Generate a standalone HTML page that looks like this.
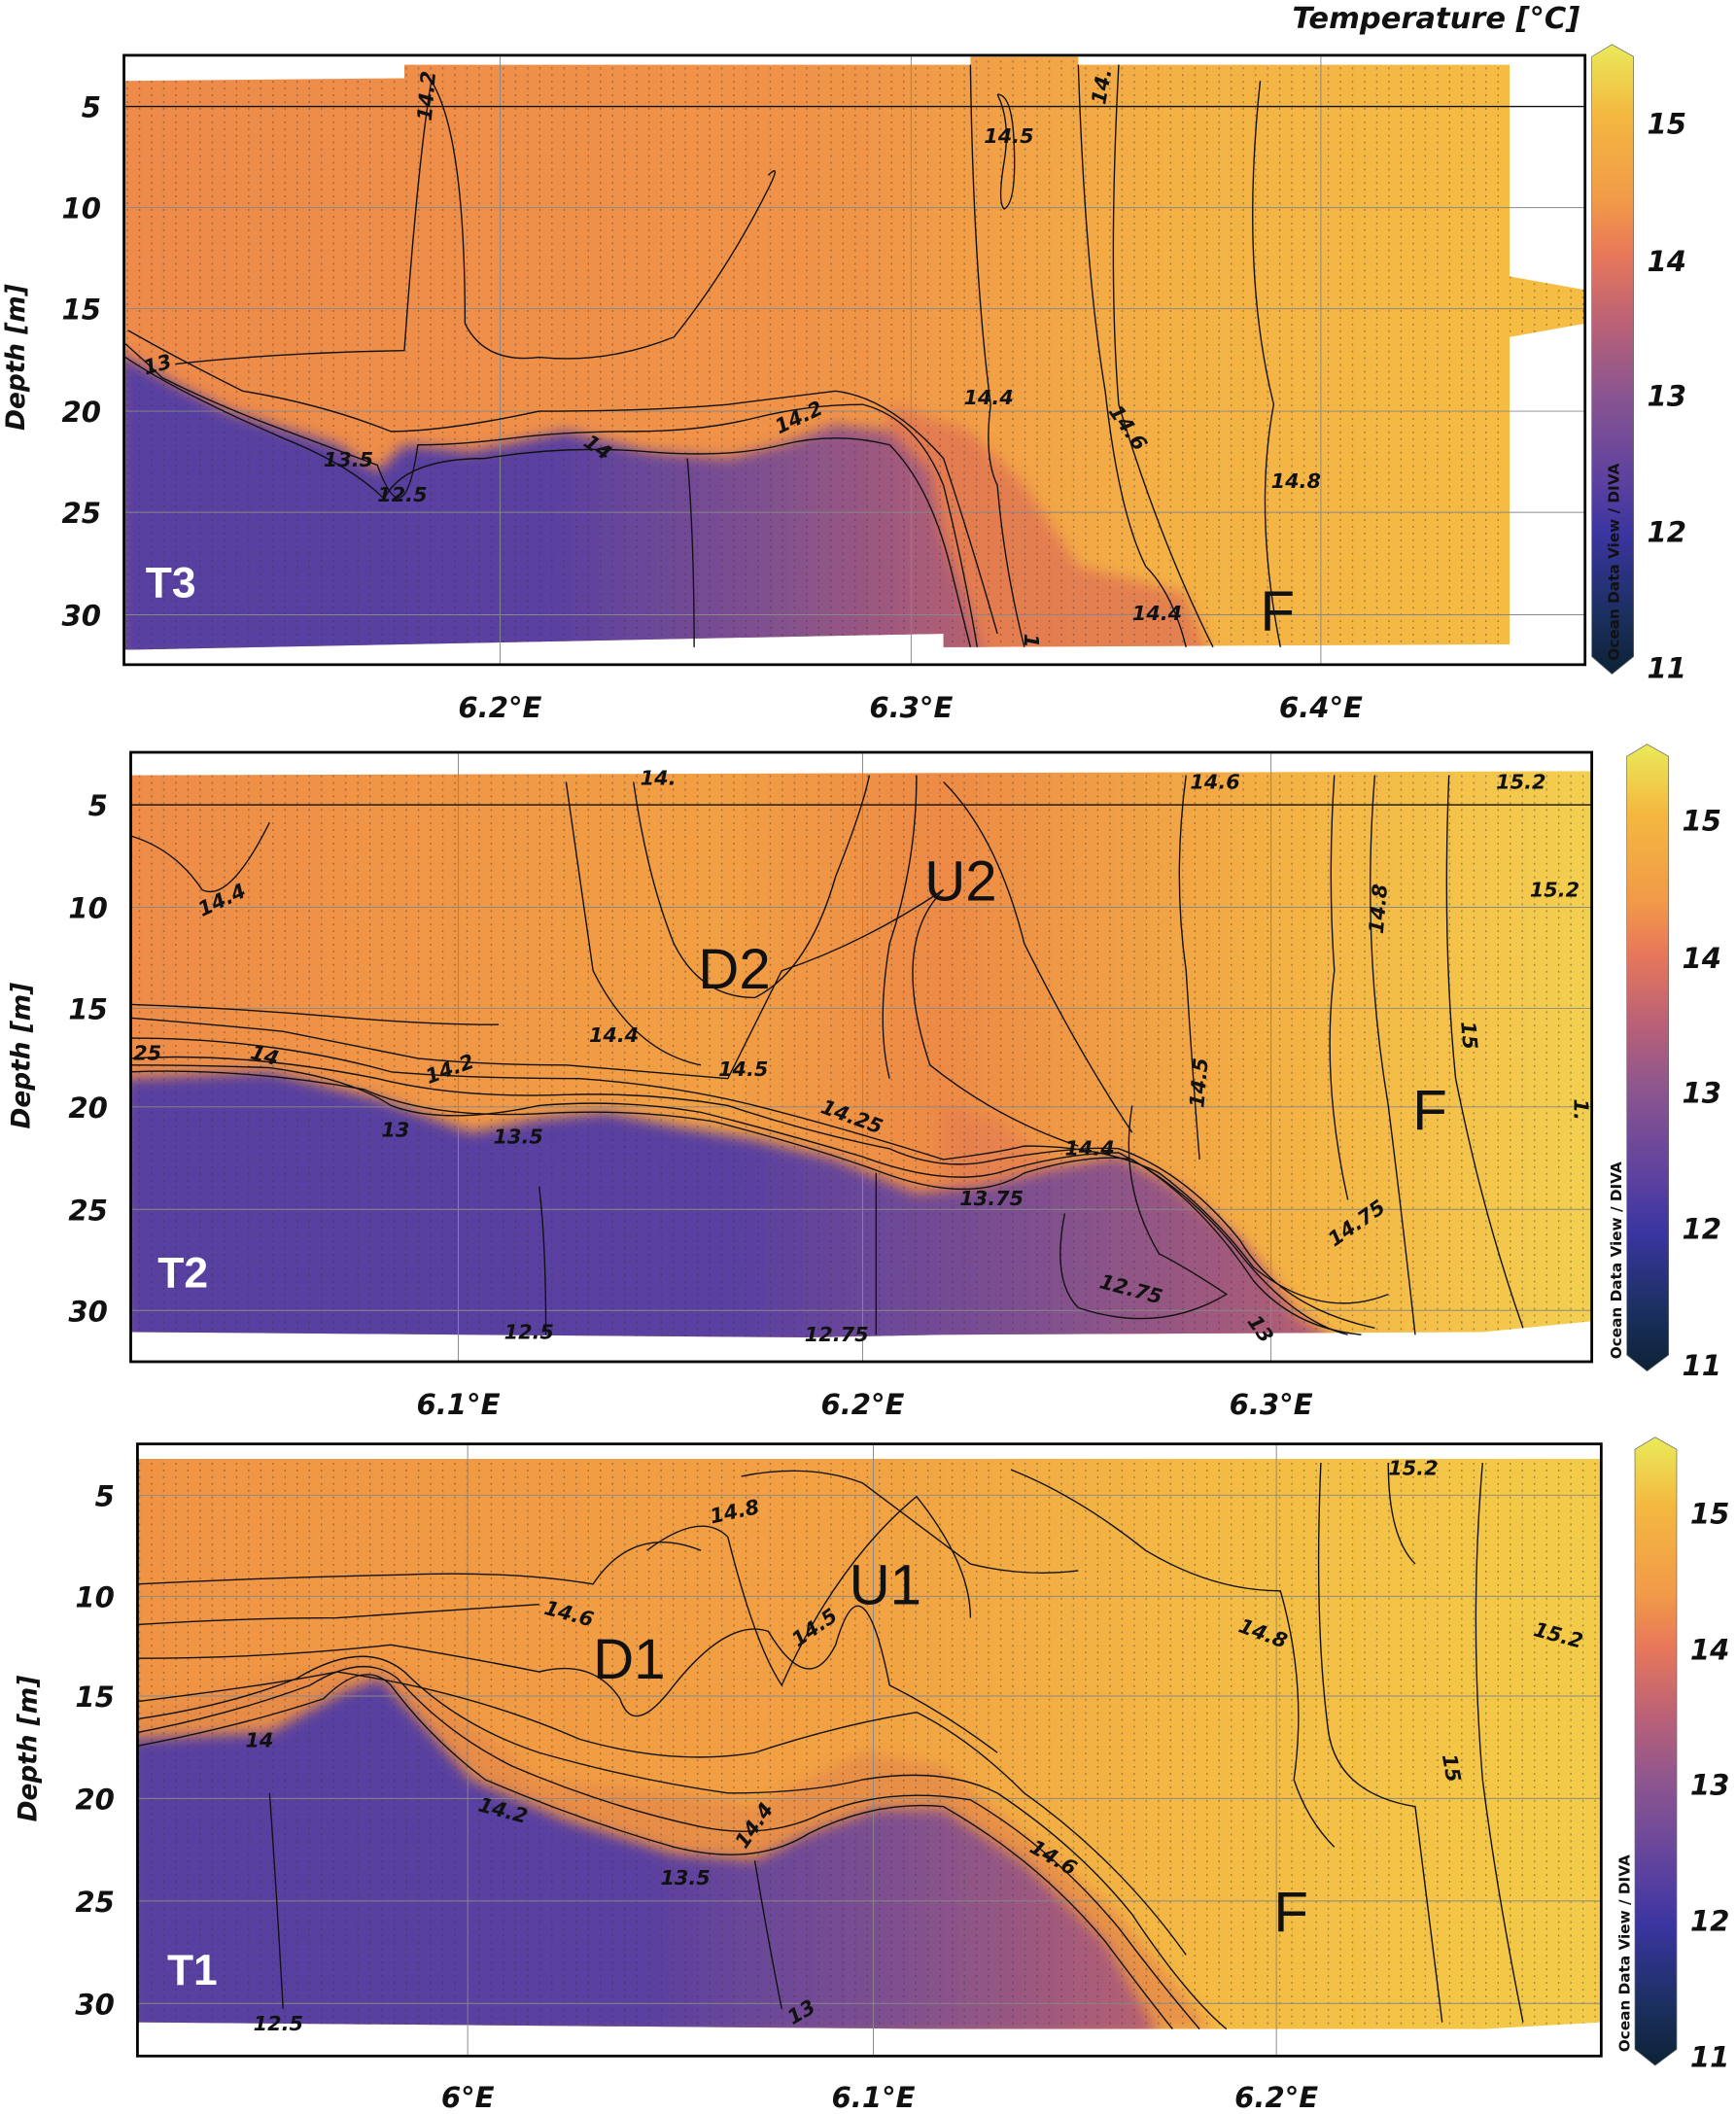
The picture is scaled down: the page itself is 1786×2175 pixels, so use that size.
<!DOCTYPE html>
<html><head><meta charset="utf-8"><style>
html,body{margin:0;padding:0;background:#fff;}
svg{display:block}
text{font-family:"DejaVu Sans","Liberation Sans",sans-serif;}
.t{font-size:21px;font-weight:bold;font-style:italic;fill:#111}
.cl{font-size:15px;font-weight:bold;font-style:italic;fill:#111}
.big{font-family:"Liberation Sans",sans-serif;font-size:42px;fill:#111}
.tl{font-family:"Liberation Sans",sans-serif;font-size:32px;fill:#fff;font-weight:bold}
.c{fill:none;stroke:#111;stroke-width:1}
.g{stroke:#888;stroke-width:0.7}
</style></head><body>
<svg width="1786" height="2175" viewBox="0 0 1288 1568" preserveAspectRatio="none" xmlns="http://www.w3.org/2000/svg">
<defs>
<linearGradient id="cb" x1="0" y1="0" x2="0" y2="1">
<stop offset="0" stop-color="#eaea5a"/><stop offset="0.111" stop-color="#f4b840"/>
<stop offset="0.25" stop-color="#f19a48"/><stop offset="0.333" stop-color="#e8785a"/>
<stop offset="0.45" stop-color="#b86078"/><stop offset="0.556" stop-color="#8a5590"/>
<stop offset="0.7" stop-color="#5a40a0"/><stop offset="0.778" stop-color="#3a35a0"/>
<stop offset="0.9" stop-color="#1c3062"/><stop offset="1" stop-color="#0d2235"/>
</linearGradient>
<linearGradient id="bg1" x1="0" y1="0" x2="1" y2="0">
<stop offset="0" stop-color="#ee8a4a"/><stop offset="0.5" stop-color="#f09448"/>
<stop offset="0.72" stop-color="#f4b245"/><stop offset="1" stop-color="#f5be42"/>
</linearGradient>
<linearGradient id="bg2" x1="0" y1="0" x2="1" y2="0">
<stop offset="0" stop-color="#ee8c48"/><stop offset="0.4" stop-color="#f2a044"/>
<stop offset="0.55" stop-color="#ed8a46"/><stop offset="0.8" stop-color="#f4b444"/>
<stop offset="1" stop-color="#f3d050"/>
</linearGradient>
<linearGradient id="bg3" x1="0" y1="0" x2="1" y2="0">
<stop offset="0" stop-color="#f09444"/><stop offset="0.5" stop-color="#f2a243"/>
<stop offset="0.75" stop-color="#f4bc44"/><stop offset="1" stop-color="#f4cc48"/>
</linearGradient>
<linearGradient id="pu" x1="0" y1="0" x2="1" y2="0">
<stop offset="0" stop-color="#5840a0"/><stop offset="0.5" stop-color="#5a40a0"/>
<stop offset="0.75" stop-color="#80508f"/><stop offset="1" stop-color="#b86070"/>
</linearGradient>
<filter id="bl" x="-5%" y="-5%" width="110%" height="110%"><feGaussianBlur stdDeviation="5"/></filter>
<pattern id="dots" width="9" height="5" patternUnits="userSpaceOnUse"><rect x="4" y="0" width="1" height="1.4" fill="#333" opacity="0.45"/></pattern>
<clipPath id="c1"><path d="M93,60 L300,58 L300,48 L720,48 L720,42 L800,42 L800,48 L1120,48 L1120,205 L1176,215 L1176,240 L1120,250 L1120,478 L700,480 L700,470 L93,482Z"/></clipPath>
<clipPath id="c2"><path d="M97,575 L1181,572 L1181,980 L1100,988 L700,990 L600,992 L97,988Z"/></clipPath>
<clipPath id="c3"><path d="M102,1082 L1188,1082 L1188,1500 L1100,1505 L700,1505 L102,1500Z"/></clipPath>
</defs>

<!-- ================= PANEL 1 ================= -->
<g clip-path="url(#c1)">
<rect x="90" y="40" width="1090" height="450" fill="url(#bg1)"/>
<path filter="url(#bl)" fill="#e07552" opacity="0.8" d="M660,300 L720,320 L760,360 L800,420 L880,440 L900,490 L640,490Z"/>
<path filter="url(#bl)" fill="url(#pu)" d="M88,262 L130,285 L170,305 L210,318 L250,330 L280,350 L300,330 L350,335 L420,320 L480,335 L540,340 L580,330 L620,315 L660,320 L690,350 L700,400 L715,440 L730,490 L88,490Z"/>
<rect x="90" y="40" width="1090" height="450" fill="url(#dots)"/>
</g>
<g class="g"><line x1="92" y1="154" x2="1176" y2="154"/><line x1="92" y1="229" x2="1176" y2="229"/><line x1="92" y1="305" x2="1176" y2="305"/><line x1="92" y1="380" x2="1176" y2="380"/><line x1="92" y1="456" x2="1176" y2="456"/><line x1="371" y1="41" x2="371" y2="493"/><line x1="676" y1="41" x2="676" y2="493"/><line x1="980" y1="41" x2="980" y2="493"/></g>
<line x1="92" y1="79" x2="1176" y2="79" stroke="#111" stroke-width="1"/>
<g class="c">
<path d="M93,255 Q110,270 120,280 Q160,300 200,315 Q240,330 280,345 Q300,400 310,330 Q340,330 380,325 Q420,320 470,320 Q520,320 560,310 Q600,300 640,300 Q680,310 700,360 Q715,420 725,480"/>
<path d="M93,265 Q130,290 210,325 Q260,345 285,370 Q300,340 360,340 Q420,330 480,335 Q540,340 580,330 Q620,320 660,330 Q690,360 705,420 Q715,460 720,480"/>
<path d="M95,245 Q130,265 180,290 Q240,300 290,320 Q330,320 400,305 Q480,305 540,300 Q580,295 620,290 Q660,295 700,340 Q720,400 740,470"/>
<path d="M130,270 Q200,262 300,260 Q310,120 320,60 Q345,100 345,240 Q360,270 400,265 Q450,270 500,250 Q540,200 570,140 Q580,120 570,130"/>
<path d="M720,48 Q722,200 735,300 Q730,340 740,360 Q745,420 760,480"/>
<path d="M800,48 Q805,200 820,290 Q830,380 850,420 Q870,440 880,480"/>
<path d="M830,48 Q822,200 830,300 Q860,400 900,480"/>
<path d="M935,60 Q920,200 945,300 Q930,380 950,480"/>
<path d="M740,70 Q750,90 745,120 Q740,150 745,155 Q755,150 752,100 Q750,70 740,70"/>
<path d="M510,340 Q515,400 515,480"/>
</g>
<text class="cl" transform="translate(320,90) rotate(-85)">14.2</text>
<text class="cl" x="730" y="106">14.5</text>
<text class="cl" transform="translate(820,78) rotate(-80)">14.</text>
<text class="cl" x="715" y="300">14.4</text>
<text class="cl" transform="translate(578,322) rotate(-25)">14.2</text>
<text class="cl" transform="translate(822,305) rotate(55)">14.6</text>
<text class="cl" x="943" y="362">14.8</text>
<text class="cl" x="240" y="346">13.5</text>
<text class="cl" x="280" y="372">12.5</text>
<text class="cl" transform="translate(432,330) rotate(35)">14</text>
<text class="cl" transform="translate(108,278) rotate(-15)">13</text>
<text class="cl" x="840" y="460">14.4</text>
<text class="cl" transform="translate(760,470) rotate(90)">1</text>
<text class="big" x="935" y="468">F</text>
<text class="tl" x="108" y="443">T3</text>
<rect x="92" y="41" width="1084" height="452" fill="none" stroke="#000" stroke-width="2"/>
<g class="t" text-anchor="end"><text x="75" y="87">5</text><text x="75" y="162">10</text><text x="75" y="237">15</text><text x="75" y="313">20</text><text x="75" y="388">25</text><text x="75" y="464">30</text></g>
<g class="t" text-anchor="middle"><text x="371" y="532">6.2°E</text><text x="676" y="532">6.3°E</text><text x="980" y="532">6.4°E</text></g>
<text class="t" transform="translate(18,265) rotate(-90)" text-anchor="middle" style="font-size:19px">Depth [m]</text>
<text class="t" x="1172" y="21" text-anchor="end" style="font-size:22px">Temperature [°C]</text>
<path d="M1181,42 L1196,33 L1212,42 L1212,487 L1196,500 L1181,487Z" fill="url(#cb)" stroke="#666" stroke-width="0.5"/>
<g class="t"><text x="1222" y="99">15</text><text x="1222" y="201">14</text><text x="1222" y="301">13</text><text x="1222" y="402">12</text><text x="1222" y="503">11</text></g>
<text transform="translate(1201,490) rotate(-90)" style="font-size:11px;font-weight:bold;fill:#111">Ocean Data View / DIVA</text>

<!-- ================= PANEL 2 ================= -->
<g clip-path="url(#c2)">
<rect x="95" y="555" width="1090" height="460" fill="url(#bg2)"/>
<path filter="url(#bl)" fill="#e27a52" opacity="0.6" d="M700,820 L740,830 L790,870 L830,860 L880,880 L930,930 L990,1000 L700,1000Z"/>
<path filter="url(#bl)" fill="url(#pu)" d="M92,800 L200,795 L280,815 L350,840 L400,830 L450,825 L500,835 L560,845 L620,860 L680,885 L730,880 L790,865 L830,858 L870,880 L920,920 L960,975 L1000,1000 L92,1000Z"/>
<rect x="95" y="555" width="1090" height="460" fill="url(#dots)"/>
</g>
<g class="g"><line x1="97" y1="673" x2="1181" y2="673"/><line x1="97" y1="748" x2="1181" y2="748"/><line x1="97" y1="821" x2="1181" y2="821"/><line x1="97" y1="897" x2="1181" y2="897"/><line x1="97" y1="972" x2="1181" y2="972"/><line x1="340" y1="558" x2="340" y2="1010"/><line x1="640" y1="558" x2="640" y2="1010"/><line x1="943" y1="558" x2="943" y2="1010"/></g>
<line x1="97" y1="597" x2="1181" y2="597" stroke="#111" stroke-width="1"/>
<g class="c">
<path d="M97,790 Q150,790 200,792 Q260,800 290,820 Q330,835 400,820 Q460,815 520,825 Q580,840 640,858 Q700,880 740,870 Q790,855 830,855 Q880,880 920,930 Q960,980 1000,990"/>
<path d="M97,795 Q180,792 270,808 Q320,830 400,826 Q470,822 530,832 Q600,850 650,868 Q720,895 760,870 Q810,855 840,860 Q890,890 930,950 Q960,985 1010,990"/>
<path d="M97,785 Q180,780 280,800 Q340,815 420,812 Q480,810 540,820 Q600,840 660,852 Q700,870 740,860 Q800,850 830,852 Q880,870 920,920 Q950,970 1020,985"/>
<path d="M97,770 Q200,770 290,795 Q350,800 430,800 Q500,805 560,820 Q620,835 700,860 Q740,855 760,850 Q820,850 860,870 Q900,900 930,940 Q980,980 1030,960"/>
<path d="M97,755 Q160,760 210,765 Q260,775 310,785 Q360,790 420,790 Q480,795 540,800 Q560,760 580,720 Q640,700 700,660 Q660,700 690,790 Q740,830 800,850"/>
<path d="M97,745 Q180,748 260,755 Q320,760 370,760"/>
<path d="M420,580 Q430,650 440,720 Q470,780 520,790"/>
<path d="M470,580 Q480,650 500,700 Q520,740 560,740 Q600,720 620,650 Q640,600 645,575"/>
<path d="M680,575 Q680,640 660,700 Q650,760 660,800"/>
<path d="M700,580 Q740,620 760,700 Q800,780 840,840"/>
<path d="M880,575 Q870,650 880,720 Q885,800 890,860"/>
<path d="M990,575 Q985,650 990,720 Q980,800 1000,890"/>
<path d="M1020,575 Q1010,700 1030,820 Q1040,900 1050,990"/>
<path d="M1075,575 Q1070,700 1080,800 Q1100,900 1130,985"/>
<path d="M97,620 Q130,630 150,660 Q170,670 200,610"/>
<path d="M840,820 Q830,880 860,930 Q880,940 910,960 Q860,990 800,970 Q780,950 790,900"/>
<path d="M400,880 Q405,920 405,990"/><path d="M650,870 Q650,930 650,990"/>
</g>
<text class="cl" transform="translate(150,680) rotate(-25)">14.4</text>
<text class="cl" x="475" y="582">14.</text>
<text class="cl" x="883" y="585">14.6</text>
<text class="cl" x="1110" y="585">15.2</text>
<text class="cl" x="1135" y="665">15.2</text>
<text class="cl" transform="translate(1026,693) rotate(-85)">14.8</text>
<text class="cl" transform="translate(1084,758) rotate(85)">15</text>
<text class="cl" transform="translate(893,822) rotate(-85)">14.5</text>
<text class="cl" x="437" y="773">14.4</text>
<text class="cl" x="533" y="798">14.5</text>
<text class="cl" transform="translate(318,804) rotate(-20)">14.2</text>
<text class="cl" transform="translate(185,785) rotate(15)">14</text>
<text class="cl" x="99" y="786">25</text>
<text class="cl" x="283" y="843">13</text>
<text class="cl" x="366" y="848">13.5</text>
<text class="cl" transform="translate(608,825) rotate(20)">14.25</text>
<text class="cl" x="790" y="857">14.4</text>
<text class="cl" x="712" y="894">13.75</text>
<text class="cl" transform="translate(990,925) rotate(-35)">14.75</text>
<text class="cl" transform="translate(815,955) rotate(15)">12.75</text>
<text class="cl" transform="translate(925,980) rotate(55)">13</text>
<text class="cl" x="374" y="993">12.5</text>
<text class="cl" x="597" y="995">12.75</text>
<text class="cl" transform="translate(1168,815) rotate(90)">1.</text>
<text class="big" x="518" y="733">D2</text>
<text class="big" x="686" y="668">U2</text>
<text class="big" x="1048" y="838">F</text>
<text class="tl" x="117" y="955">T2</text>
<rect x="97" y="558" width="1084" height="452" fill="none" stroke="#000" stroke-width="2"/>
<g class="t" text-anchor="end"><text x="80" y="605">5</text><text x="80" y="681">10</text><text x="80" y="756">15</text><text x="80" y="829">20</text><text x="80" y="905">25</text><text x="80" y="980">30</text></g>
<g class="t" text-anchor="middle"><text x="340" y="1049">6.1°E</text><text x="640" y="1049">6.2°E</text><text x="943" y="1049">6.3°E</text></g>
<text class="t" transform="translate(22,783) rotate(-90)" text-anchor="middle" style="font-size:19px">Depth [m]</text>
<path d="M1207,561 L1222,552 L1238,561 L1238,1005 L1222,1017 L1207,1005Z" fill="url(#cb)" stroke="#666" stroke-width="0.5"/>
<g class="t"><text x="1248" y="616">15</text><text x="1248" y="718">14</text><text x="1248" y="818">13</text><text x="1248" y="919">12</text><text x="1248" y="1020">11</text></g>
<text transform="translate(1203,1008) rotate(-90)" style="font-size:11px;font-weight:bold;fill:#111">Ocean Data View / DIVA</text>

<!-- ================= PANEL 3 ================= -->
<g clip-path="url(#c3)">
<rect x="100" y="1070" width="1090" height="460" fill="url(#bg3)"/>
<path filter="url(#bl)" fill="#e58a48" opacity="0.8" d="M102,1270 L260,1230 L300,1240 L400,1320 L500,1330 L560,1340 L640,1300 L700,1310 L760,1360 L830,1420 L900,1505 L102,1505Z"/>
<path filter="url(#bl)" fill="url(#pu)" d="M95,1290 L200,1285 L255,1255 L282,1245 L310,1275 L350,1320 L420,1350 L500,1375 L560,1380 L600,1360 L650,1342 L700,1342 L760,1382 L820,1440 L860,1510 L95,1510Z"/>
<rect x="100" y="1070" width="1090" height="460" fill="url(#dots)"/>
</g>
<g class="g"><line x1="102" y1="1184" x2="1188" y2="1184"/><line x1="102" y1="1258" x2="1188" y2="1258"/><line x1="102" y1="1334" x2="1188" y2="1334"/><line x1="102" y1="1410" x2="1188" y2="1410"/><line x1="102" y1="1486" x2="1188" y2="1486"/><line x1="102" y1="1109" x2="1188" y2="1109"/><line x1="347" y1="1071" x2="347" y2="1525"/><line x1="648" y1="1071" x2="648" y2="1525"/><line x1="947" y1="1071" x2="947" y2="1525"/></g>
<g class="c">
<path d="M102,1295 Q180,1280 240,1260 Q270,1230 290,1250 Q320,1290 360,1320 Q430,1350 500,1370 Q560,1385 600,1360 Q650,1335 700,1340 Q770,1380 820,1440 Q850,1480 870,1505"/>
<path d="M102,1285 Q170,1272 230,1250 Q270,1225 295,1245 Q330,1285 380,1310 Q450,1340 520,1355 Q570,1365 610,1345 Q660,1325 720,1335 Q780,1370 830,1430 Q860,1470 890,1505"/>
<path d="M102,1275 Q170,1265 220,1245 Q270,1215 300,1240 Q340,1280 400,1300 Q470,1320 540,1330 Q600,1330 640,1320 Q700,1310 740,1330 Q800,1370 840,1420 Q880,1480 910,1505"/>
<path d="M102,1262 Q200,1250 250,1240 Q350,1255 430,1290 Q500,1310 560,1300 Q620,1280 680,1270 Q720,1290 760,1330 Q830,1380 880,1450"/>
<path d="M102,1230 Q200,1230 290,1220 Q350,1230 400,1240 Q440,1230 460,1260 Q470,1290 500,1250 Q540,1200 570,1210 Q600,1260 620,1220 Q640,1150 660,1250 Q700,1270 740,1300"/>
<path d="M102,1205 Q180,1200 250,1200 Q330,1195 400,1190"/>
<path d="M102,1175 Q200,1170 300,1168 Q380,1165 440,1175 Q470,1130 520,1150"/>
<path d="M480,1150 Q520,1120 540,1140 Q560,1220 580,1250 Q620,1160 680,1110 Q720,1160 720,1200"/>
<path d="M550,1095 Q600,1085 640,1100 Q680,1130 720,1160 Q760,1170 800,1165"/>
<path d="M750,1090 Q800,1110 850,1150 Q900,1180 950,1180 Q970,1250 960,1320 Q970,1350 990,1370"/>
<path d="M980,1085 Q975,1200 985,1280 Q990,1330 1050,1340 Q1060,1420 1070,1500"/>
<path d="M1100,1085 Q1090,1200 1100,1320 Q1110,1400 1130,1500"/>
<path d="M1030,1085 Q1030,1140 1050,1160"/>
<path d="M200,1330 Q205,1400 210,1490"/><path d="M560,1380 Q570,1440 580,1490"/>
</g>
<text class="cl" transform="translate(528,1130) rotate(-12)">14.8</text>
<text class="cl" x="1030" y="1094">15.2</text>
<text class="cl" transform="translate(1137,1213) rotate(15)">15.2</text>
<text class="cl" transform="translate(918,1210) rotate(20)">14.8</text>
<text class="cl" transform="translate(403,1197) rotate(15)">14.6</text>
<text class="cl" transform="translate(592,1222) rotate(-35)">14.5</text>
<text class="cl" transform="translate(1070,1302) rotate(80)">15</text>
<text class="cl" x="182" y="1296">14</text>
<text class="cl" transform="translate(354,1343) rotate(15)">14.2</text>
<text class="cl" transform="translate(553,1372) rotate(-55)">14.4</text>
<text class="cl" x="490" y="1398">13.5</text>
<text class="cl" transform="translate(763,1373) rotate(30)">14.6</text>
<text class="cl" x="188" y="1506">12.5</text>
<text class="cl" transform="translate(588,1502) rotate(-30)">13</text>
<text class="big" x="440" y="1245">D1</text>
<text class="big" x="630" y="1190">U1</text>
<text class="big" x="945" y="1433">F</text>
<text class="tl" x="124" y="1472">T1</text>
<rect x="102" y="1071" width="1086" height="454" fill="none" stroke="#000" stroke-width="2"/>
<g class="t" text-anchor="end"><text x="85" y="1117">5</text><text x="85" y="1192">10</text><text x="85" y="1266">15</text><text x="85" y="1342">20</text><text x="85" y="1418">25</text><text x="85" y="1494">30</text></g>
<g class="t" text-anchor="middle"><text x="347" y="1563">6°E</text><text x="648" y="1563">6.1°E</text><text x="947" y="1563">6.2°E</text></g>
<text class="t" transform="translate(27,1297) rotate(-90)" text-anchor="middle" style="font-size:19px">Depth [m]</text>
<path d="M1213,1075 L1228,1066 L1244,1075 L1244,1520 L1228,1532 L1213,1520Z" fill="url(#cb)" stroke="#666" stroke-width="0.5"/>
<g class="t"><text x="1254" y="1130">15</text><text x="1254" y="1231">14</text><text x="1254" y="1331">13</text><text x="1254" y="1432">12</text><text x="1254" y="1533">11</text></g>
<text transform="translate(1209,1522) rotate(-90)" style="font-size:11px;font-weight:bold;fill:#111">Ocean Data View / DIVA</text>
</svg>
</body></html>
